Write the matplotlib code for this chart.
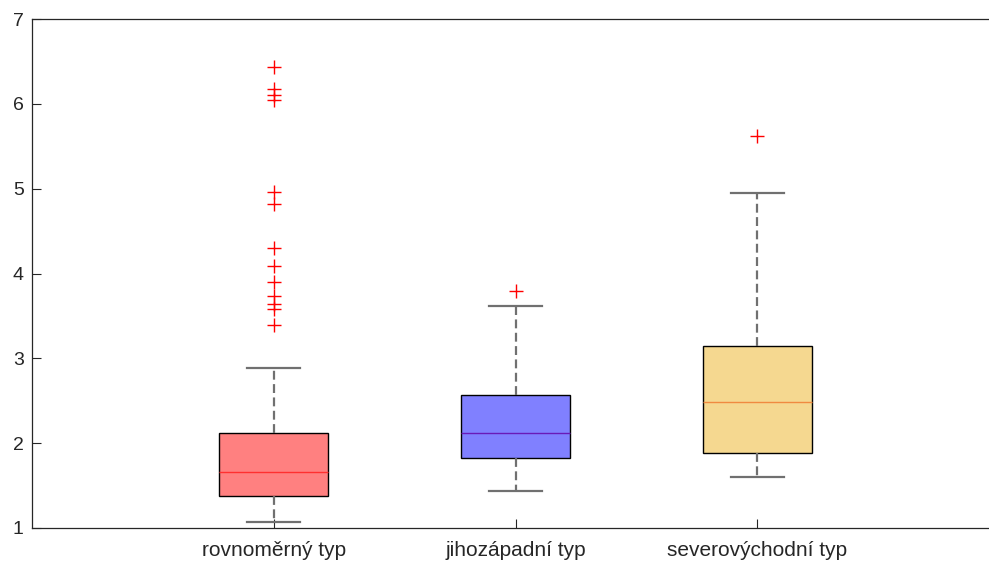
import matplotlib
matplotlib.use('Agg')
import matplotlib.pyplot as plt

plt.rcParams['font.family'] = ['Liberation Sans', 'DejaVu Sans']

# box statistics per circulation type
labels = ['rovnoměrný typ', 'jihozápadní typ', 'severovýchodní typ']
whislo = [1.07, 1.44, 1.60]
q1 = [1.38, 1.83, 1.88]
med = [1.66, 2.12, 2.49]
q3 = [2.12, 2.57, 3.15]
whishi = [2.89, 3.62, 4.95]
fliers = [
    [6.44, 6.17, 6.11, 6.04, 4.96, 4.82, 4.30, 4.09, 3.90, 3.74, 3.64, 3.58, 3.39],
    [3.79],
    [5.62],
]

box_colors = ['#ff8080', '#8080ff', '#f5d890']
median_colors = ['#ff3030', '#6a1ab8', '#f08a40']

stats = []
for i in range(len(labels)):
    stats.append(dict(label=labels[i], whislo=whislo[i], q1=q1[i], med=med[i],
                      q3=q3[i], whishi=whishi[i], fliers=fliers[i]))

fig = plt.figure(figsize=(9.89, 5.61), dpi=100)
ax = fig.add_axes([32 / 989, 33 / 561, 967 / 989, 509 / 561])

bp = ax.bxp(stats, positions=[1, 2, 3], widths=0.45, patch_artist=True,
            showfliers=True, capwidths=0.22,
            boxprops=dict(edgecolor='black', linewidth=1.0),
            whiskerprops=dict(color='#707070', linewidth=1.6, linestyle=(0, (4, 2))),
            capprops=dict(color='#707070', linewidth=1.6),
            flierprops=dict(marker='+', markeredgecolor='red', markersize=9.5,
                            markeredgewidth=1.0, linestyle='none'))

for patch, c in zip(bp['boxes'], box_colors):
    patch.set_facecolor(c)
for line, c in zip(bp['medians'], median_colors):
    line.set_color(c)
    line.set_linewidth(1.0)

ax.set_xlim(0, 4)
ax.set_ylim(1, 7)
ax.set_yticks(range(1, 8))
ax.tick_params(direction='in', length=6.5, width=0.8, colors='#262626')
ax.tick_params(axis='x', labelsize=15, pad=9)
ax.tick_params(axis='y', labelsize=14, pad=6)
ax.spines['right'].set_visible(False)
for s in ['left', 'bottom', 'top']:
    ax.spines[s].set_color('#262626')
    ax.spines[s].set_linewidth(0.9)

fig.savefig('out.png', dpi=100)
